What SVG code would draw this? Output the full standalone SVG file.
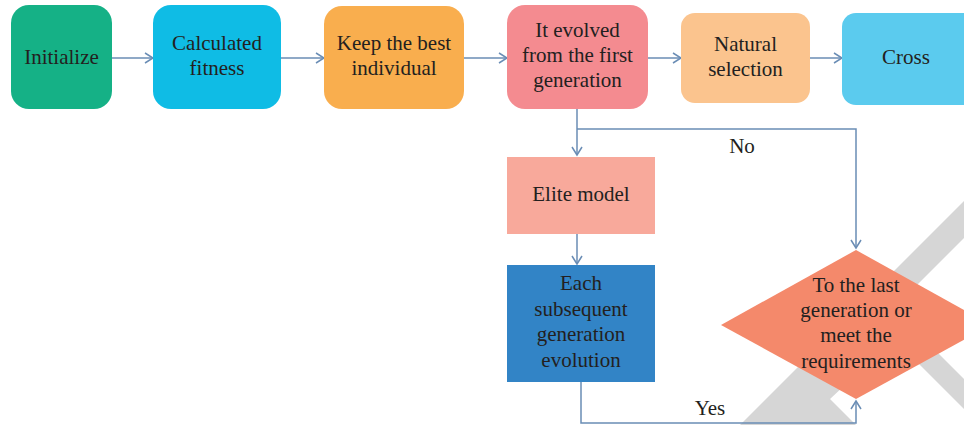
<svg xmlns="http://www.w3.org/2000/svg" width="964" height="425" viewBox="0 0 964 425">
<style>
.t{font-family:'Liberation Serif','Times New Roman',serif;font-size:21px;fill:#231F20;text-anchor:middle}
.c{fill:none;stroke:#6A8DB5;stroke-width:1.5}
.wm{fill:#D6D6D6}
</style>
<defs>
<marker id="ah" markerWidth="12" markerHeight="12" refX="10" refY="6" orient="auto" markerUnits="userSpaceOnUse">
<path d="M2,1 L10,6 L2,11" fill="none" stroke="#6A8DB5" stroke-width="1.5"/>
</marker>
</defs>
<rect width="964" height="425" fill="#fff"/>
<g id="watermark">
<polygon class="wm" points="740,425 964,201 964,238 880,322 845,385 830,399 856,425"/>
<polygon class="wm" points="900,345 920,335 964,379 964,409"/>
</g>
<g id="connectors">
<line class="c" x1="111" y1="58" x2="153" y2="58" marker-end="url(#ah)"/>
<line class="c" x1="281" y1="58" x2="324" y2="58" marker-end="url(#ah)"/>
<line class="c" x1="464" y1="58" x2="507" y2="58" marker-end="url(#ah)"/>
<line class="c" x1="648" y1="58" x2="681" y2="58" marker-end="url(#ah)"/>
<line class="c" x1="810" y1="58" x2="842" y2="58" marker-end="url(#ah)"/>
<line class="c" x1="577" y1="109" x2="577" y2="155" marker-end="url(#ah)"/>
<polyline class="c" points="577,129 856,129 856,248" marker-end="url(#ah)"/>
<line class="c" x1="577" y1="234" x2="577" y2="264" marker-end="url(#ah)"/>
<polyline class="c" points="581,382 581,423 856,423 856,401" marker-end="url(#ah)"/>
<text class="t" x="742" y="153">No</text>
<text class="t" x="710" y="415">Yes</text>
</g>
<g id="n1"><rect x="11" y="5" width="101" height="104" rx="18" fill="#15B186"/><text class="t" x="61.5" y="64">Initialize</text></g>
<g id="n2"><rect x="153" y="5" width="128" height="104" rx="18" fill="#0FBCE5"/><text class="t" x="217" y="50">Calculated</text><text class="t" x="217" y="75">fitness</text></g>
<g id="n3"><rect x="324" y="6" width="140" height="103" rx="18" fill="#F9AE4E"/><text class="t" x="394" y="50">Keep the best</text><text class="t" x="394" y="75">individual</text></g>
<g id="n4"><rect x="507" y="5" width="141" height="104" rx="18" fill="#F48B90"/><text class="t" x="577.5" y="37">It evolved</text><text class="t" x="577.5" y="62">from the first</text><text class="t" x="577.5" y="87">generation</text></g>
<g id="n5"><rect x="681" y="13" width="129" height="90" rx="14" fill="#FBC48E"/><text class="t" x="745.5" y="51">Natural</text><text class="t" x="745.5" y="76">selection</text></g>
<g id="n6"><rect x="842" y="13" width="140" height="92" rx="14" fill="#5BCBEE"/><text class="t" x="906" y="64">Cross</text></g>
<g id="n7"><rect x="507" y="157" width="148" height="77" fill="#F8A99B"/><text class="t" x="581" y="201">Elite model</text></g>
<g id="n8"><rect x="507" y="265" width="148" height="117" fill="#3284C6"/><text class="t" x="581" y="290">Each</text><text class="t" x="581" y="315.5">subsequent</text><text class="t" x="581" y="341">generation</text><text class="t" x="581" y="366.5">evolution</text></g>
<g id="n9"><polygon points="856,250 991,325 856,399 721,325" fill="#F4896B"/><text class="t" x="856" y="292">To the last</text><text class="t" x="856" y="317">generation or</text><text class="t" x="856" y="342">meet the</text><text class="t" x="856" y="368">requirements</text></g>
</svg>
